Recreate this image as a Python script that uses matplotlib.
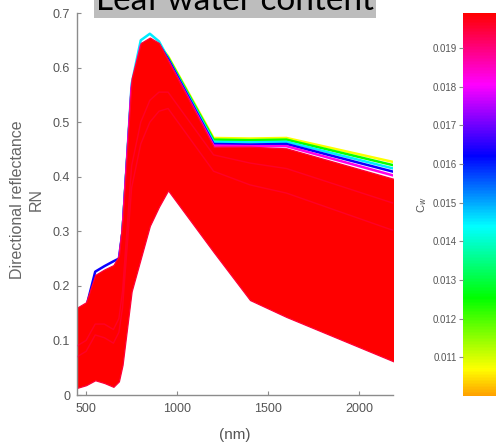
import numpy as np
import matplotlib
matplotlib.use("Agg")
import matplotlib.pyplot as plt
from matplotlib.colors import ListedColormap, Normalize, hsv_to_rgb
from matplotlib.cm import ScalarMappable

# sampled wavelengths (nm)
wavelength = [450, 500, 550, 600, 650, 680, 700, 750, 800, 850, 900, 950, 1200, 1400, 1600, 2200]

# envelope of the dense bundle of high-Cw (red) spectra
red_top = [0.160, 0.170, 0.220, 0.230, 0.238, 0.255, 0.320, 0.580, 0.645, 0.655, 0.645, 0.613, 0.455, 0.455, 0.452, 0.395]
red_bottom = [0.013, 0.018, 0.027, 0.022, 0.015, 0.025, 0.055, 0.190, 0.250, 0.310, 0.345, 0.375, 0.262, 0.174, 0.143, 0.060]
red_cw = 0.0199

# low-Cw spectra that stick out at the top edge
cw_yellow = 0.0107
refl_yellow = [0.150, 0.160, 0.200, 0.210, 0.220, 0.240, 0.300, 0.560, 0.630, 0.640, 0.642, 0.621, 0.471, 0.470, 0.471, 0.426]
cw_green = 0.0125
refl_green = [0.150, 0.160, 0.200, 0.210, 0.220, 0.240, 0.300, 0.560, 0.630, 0.640, 0.641, 0.619, 0.468, 0.467, 0.468, 0.420]
cw_cyan = 0.0145
refl_cyan = [0.150, 0.160, 0.200, 0.210, 0.220, 0.240, 0.300, 0.570, 0.650, 0.662, 0.648, 0.617, 0.464, 0.463, 0.464, 0.414]
cw_blue = 0.0163
refl_blue = [0.150, 0.160, 0.226, 0.236, 0.245, 0.250, 0.300, 0.560, 0.635, 0.648, 0.642, 0.616, 0.460, 0.459, 0.460, 0.408]
cw_magenta = 0.0182
refl_magenta = [0.150, 0.160, 0.210, 0.220, 0.225, 0.245, 0.300, 0.565, 0.640, 0.650, 0.640, 0.612, 0.457, 0.456, 0.456, 0.401]

# faint pinkish spectra inside the bundle
cw_pink = 0.0191
refl_pink_a = [0.090, 0.100, 0.130, 0.130, 0.120, 0.140, 0.190, 0.420, 0.500, 0.540, 0.555, 0.555, 0.440, 0.425, 0.415, 0.350]
refl_pink_b = [0.070, 0.080, 0.110, 0.105, 0.095, 0.115, 0.160, 0.380, 0.460, 0.500, 0.520, 0.525, 0.410, 0.385, 0.370, 0.300]

cb_ticks = [0.011, 0.012, 0.013, 0.014, 0.015, 0.016, 0.017, 0.018, 0.019]
x_ticks = [500, 1000, 1500, 2000]
y_ticks = [0, 0.1, 0.2, 0.3, 0.4, 0.5, 0.6, 0.7]

# orange -> yellow -> green -> cyan -> blue -> magenta -> red
hues = np.linspace(0.105, 1.0, 256) % 1.0
hsv = np.stack([hues, np.ones(256), np.ones(256)], axis=1)
cmap = ListedColormap(hsv_to_rgb(hsv))
norm = Normalize(vmin=0.0100, vmax=0.0199)

plt.rcParams["font.family"] = ["Liberation Sans", "DejaVu Sans"]
fig = plt.figure(figsize=(4.96, 4.43), dpi=100)
ax = fig.add_axes([77 / 496, 48 / 443, 316 / 496, 382 / 443])

for cw, refl in [(cw_yellow, refl_yellow), (cw_green, refl_green), (cw_cyan, refl_cyan),
                 (cw_blue, refl_blue), (cw_magenta, refl_magenta)]:
    ax.plot(wavelength, refl, color=cmap(norm(cw)), lw=1.8, zorder=1)

ax.fill_between(wavelength, red_bottom, red_top, facecolor=cmap(norm(red_cw)),
                edgecolor=cmap(norm(0.0195)), lw=0.9, zorder=2)

for refl in [refl_pink_a, refl_pink_b]:
    ax.plot(wavelength, refl, color=cmap(norm(cw_pink)), lw=1.0, alpha=0.35, zorder=3)

ax.set_xlim(450, 2185)
ax.set_ylim(0, 0.7)
ax.set_xticks(x_ticks)
ax.set_yticks(y_ticks)
ax.set_yticklabels(["%g" % v for v in y_ticks])
for side in ["top", "right"]:
    ax.spines[side].set_visible(False)
for side in ["left", "bottom"]:
    ax.spines[side].set_color("#8c8c8c")
    ax.spines[side].set_linewidth(1.0)
ax.tick_params(direction="in", length=3, color="#8c8c8c", labelcolor="#555555", labelsize=9)
ax.tick_params(axis="x", pad=6)
ax.tick_params(axis="y", pad=5)
ax.set_xlabel("(nm)", fontsize=11, color="#555555")
ax.xaxis.set_label_coords(0.5, -0.087)

fig.text(27 / 496, 1 - 200 / 443, "Directional reflectance\nRN", rotation=90,
         ha="center", va="center", fontsize=11.5, color="#666666", linespacing=1.25)

# colorbar
cax = fig.add_axes([463 / 496, 47 / 443, 33 / 496, 383 / 443])
sm = ScalarMappable(norm=norm, cmap=cmap)
cb = fig.colorbar(sm, cax=cax)
cb.outline.set_visible(False)
cb.set_ticks(cb_ticks)
cb.set_ticklabels(["%.3f" % t for t in cb_ticks])
cax.yaxis.set_ticks_position("left")
cax.tick_params(length=3, color="#8c8c8c", labelcolor="#555555", labelsize=7, pad=1.5)
fig.text(422 / 496, 1 - 205 / 443, "C$_w$", rotation=90, ha="center", va="center",
         fontsize=8, color="#555555")

# title box, cut off at the top edge as in the source image
fig.text(235 / 496, 1 - 10 / 443, "Leaf water content", ha="center", va="baseline",
         fontsize=24, family=["Lato", "DejaVu Sans"], color="black",
         bbox=dict(boxstyle="square,pad=0.05", facecolor="#bdbdbd", edgecolor="none"))

fig.savefig("out.png", dpi=100)
